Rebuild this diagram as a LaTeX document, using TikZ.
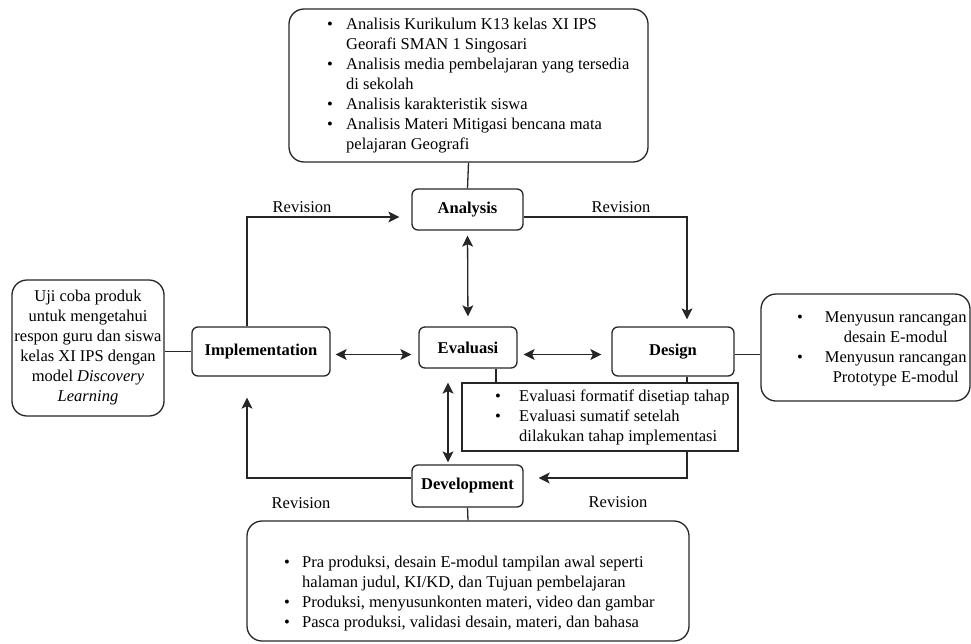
\documentclass[tikz,border=0pt]{standalone}
\usepackage{fontspec}
\setmainfont{Liberation Serif}
\usetikzlibrary{arrows.meta,positioning,calc}

\newcommand{\bul}[1]{\makebox[#1][l]{\textbullet}}

\begin{document}
\begin{tikzpicture}[x=1pt, y=-1pt,
  every node/.style={font=\fontsize{16.5}{20}\selectfont, inner sep=0pt},
  stage/.style={draw=black!85, line width=1.3pt, rounded corners=6pt,
    font=\fontsize{16.5}{20}\selectfont\bfseries},
  infobox/.style={draw=black!85, line width=1.3pt, rounded corners=15pt},
  notebox/.style={draw=black!85, line width=1.3pt, fill=white},
  list/.style={anchor=west, align=left},
  link/.style={draw=black!85, line width=1.3pt},
  arr/.style={link, -{Stealth[length=11pt,width=11pt,inset=2.5pt]}},
  dbl/.style={link, {Stealth[length=11pt,width=11pt,inset=2.5pt]}-{Stealth[length=11pt,width=11pt,inset=2.5pt]}},
]
\useasboundingbox (0,0) rectangle (971,643);

% stages
\node[stage, minimum width=111pt, minimum height=41pt] (ana) at (467.5,209.5) {Analysis};
\node[stage, minimum width=98pt, minimum height=41pt] (eva) at (468,347.5) {Evaluasi};
\node[stage, minimum width=138pt, minimum height=49pt] (impl) at (261,351.5) {Implementation};
\node[stage, minimum width=122pt, minimum height=49pt] (des) at (673,351.5) {Design};
\node[stage, minimum width=111pt, minimum height=42pt] (dev) at (467.5,486) {Development};

% info boxes
\node[infobox, minimum width=359pt, minimum height=153pt] (anabox) at (468.5,85.5) {};
\node[list] (analist) at (327,86) {%
\bul{19pt}Analisis Kurikulum K13 kelas XI IPS\\
\hspace*{19pt}Georafi SMAN 1 Singosari\\
\bul{19pt}Analisis media pembelajaran yang tersedia\\
\hspace*{19pt}di sekolah\\
\bul{19pt}Analisis karakteristik siswa\\
\bul{19pt}Analisis Materi Mitigasi bencana mata\\
\hspace*{19pt}pelajaran Geografi};

\node[infobox, minimum width=152pt, minimum height=136pt, align=center] (implbox) at (88,348) {%
Uji coba produk\\
untuk mengetahui\\
respon guru dan siswa\\
kelas XI IPS dengan\\
model \textit{Discovery}\\
\textit{Learning}};

\node[infobox, minimum width=209pt, minimum height=107pt] (desbox) at (865.5,347.5) {};
\node[anchor=west] (deslist) at (797,348) {%
\begin{tabular}{@{}l@{\hspace{22pt}}c@{}}
\textbullet & Menyusun rancangan\\
 & desain E-modul\\
\textbullet & Menyusun rancangan\\
 & Prototype E-modul
\end{tabular}};

\node[infobox, minimum width=442pt, minimum height=120pt] (devbox) at (468,581) {};
\node[list] (devlist) at (284,594) {%
\bul{18pt}Pra produksi, desain E-modul tampilan awal seperti\\
\hspace*{18pt}halaman judul, KI/KD, dan Tujuan pembelajaran\\
\bul{18pt}Produksi, menyusunkonten materi, video dan gambar\\
\bul{18pt}Pasca produksi, validasi desain, materi, dan bahasa};

% revision labels
\node (rev1) at (302,207) {Revision};
\node (rev2) at (621,207) {Revision};
\node (rev3) at (301,503) {Revision};
\node (rev4) at (618,502) {Revision};

% connectors
\draw[link] (anabox.south) -- (ana.north);
\draw[link] (dev.south) -- (devbox.north);
\draw[link] (implbox.east |- impl.west) -- (impl.west);
\draw[link] ([yshift=-3pt]des.east) -- ([yshift=-3pt]des.east -| desbox.west);

\draw[arr, shorten >=12pt] ([xshift=-14pt]impl.north) |- ([yshift=-7.5pt]ana.west);
\draw[arr, shorten >=7pt] ([yshift=-7.5pt]ana.east) -| ([xshift=14pt]des.north);
\draw[arr, shorten >=15pt] ([xshift=14pt]des.south) |- ([yshift=8pt]dev.east);
\draw[arr, shorten >=21pt] ([yshift=8pt]dev.west) -| ([xshift=-14pt]impl.south);

\draw[dbl, shorten <=5pt, shorten >=10pt] (ana.south) -- (eva.north);
\draw[dbl, shorten <=5pt, shorten >=7pt] ([yshift=-3pt]impl.east) -- ([yshift=-3pt]impl.east -| eva.west);
\draw[dbl, shorten <=6pt, shorten >=10pt] ([yshift=-3pt]des.east -| eva.east) -- ([yshift=-3pt]des.west);
\draw[dbl, shorten <=14pt, shorten >=2pt] ([xshift=-20pt]eva.south) -- ([xshift=-20pt]eva.south |- dev.north);

% evaluation note
\node[notebox, minimum width=276pt, minimum height=68pt] (evabox) at (600,417) {};
\node[list] (evalist) at (495,417) {%
\bul{24pt}Evaluasi formatif disetiap tahap\\
\bul{24pt}Evaluasi sumatif setelah\\
\hspace*{24pt}dilakukan tahap implementasi};
\draw[link] ([xshift=28pt]eva.south) -- ([xshift=28pt]eva.south |- evabox.north);

\end{tikzpicture}
\end{document}
